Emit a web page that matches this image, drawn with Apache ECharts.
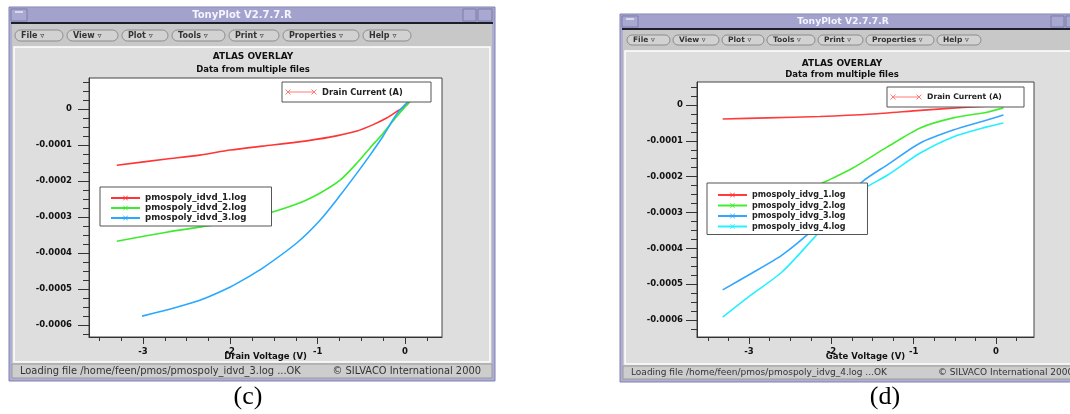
<!DOCTYPE html>
<html>
<head>
<meta charset="utf-8">
<title>TonyPlot - ATLAS OVERLAY</title>
<script src="https://cdn.jsdelivr.net/npm/echarts@6.0.0/dist/echarts.min.js"></script>
<style>
    html, body { margin: 0; padding: 0; background: #fff; }
    #main { width: 1070px; height: 414px; }
</style>
</head>
<body>
<div id="main"></div>
<script>
/** ---------------- 数据 (c) Id-Vd ---------------- */
var idvdNames = ['pmospoly_idvd_1.log', 'pmospoly_idvd_2.log', 'pmospoly_idvd_3.log'];
var idvd1 = [[-3.30,-0.000156],[-2.73,-0.000139],[-2.35,-0.000128],[-2.00,-0.000114],[-1.63,-0.000103],
    [-1.24,-0.000092],[-0.86,-0.000078],[-0.55,-0.000061],[-0.37,-0.000044],[-0.21,-0.000025],
    [-0.10,-0.000008],[0.02,0.000011],[0.06,0.000022]];
var idvd2 = [[-3.30,-0.000367],[-2.73,-0.000342],[-2.35,-0.000328],[-2.00,-0.000314],[-1.63,-0.000294],
    [-1.24,-0.000264],[-0.97,-0.000233],[-0.74,-0.000197],[-0.55,-0.000150],[-0.40,-0.000108],
    [-0.25,-0.000067],[-0.10,-0.000022],[0.02,0.000011],[0.06,0.000022]];
var idvd3 = [[-3.01,-0.000575],[-2.73,-0.000558],[-2.35,-0.000531],[-2.00,-0.000494],[-1.80,-0.000467],
    [-1.63,-0.000442],[-1.24,-0.000372],[-0.97,-0.000308],[-0.74,-0.000239],[-0.55,-0.000178],
    [-0.40,-0.000128],[-0.25,-0.000075],[-0.10,-0.000016],[0.03,0.000019],[0.06,0.000022]];

/** ---------------- 数据 (d) Id-Vg ---------------- */
var idvgNames = ['pmospoly_idvg_1.log', 'pmospoly_idvg_2.log', 'pmospoly_idvg_3.log', 'pmospoly_idvg_4.log'];
var idvg1 = [[-3.32,-0.000039],[-2.78,-0.000036],[-2.14,-0.000032],[-1.50,-0.000025],[-0.92,-0.000015],
    [-0.40,-0.000007],[0.09,-0.000001]];
var idvg2 = [[-3.32,-0.000349],[-3.01,-0.000327],[-2.16,-0.000223],[-1.98,-0.000204],[-1.74,-0.000176],
    [-1.32,-0.000117],[-0.92,-0.000064],[-0.52,-0.000036],[-0.11,-0.000020],[0.09,-0.000008]];
var idvg3 = [[-3.32,-0.000516],[-3.01,-0.000475],[-2.60,-0.000419],[-2.20,-0.000343],[-1.63,-0.000215],
    [-1.32,-0.000167],[-0.92,-0.000106],[-0.52,-0.000070],[-0.11,-0.000042],[0.09,-0.000028]];
var idvg4 = [[-3.32,-0.000592],[-3.01,-0.000536],[-2.60,-0.000466],[-2.20,-0.000368],[-1.87,-0.000285],
    [-1.63,-0.000237],[-1.32,-0.000196],[-0.92,-0.000134],[-0.52,-0.000089],[-0.11,-0.000061],
    [0.09,-0.000050]];

/** ---------------- 刻度 ---------------- */
var xMajorTicks = [-3, -2, -1, 0];
var yMajorTicks = [0, -0.0001, -0.0002, -0.0003, -0.0004, -0.0005, -0.0006];
var xMinorTicks = [-3.5, -3.25, -2.75, -2.5, -2.25, -1.75, -1.5, -1.25, -0.75, -0.5, -0.25, 0.25];
var yMinorTicks = [0.000075, 0.00005, 0.000025, -0.000025, -0.00005, -0.000075, -0.000125, -0.00015,
    -0.000175, -0.000225, -0.00025, -0.000275, -0.000325, -0.00035, -0.000375, -0.000425, -0.00045,
    -0.000475, -0.000525, -0.00055, -0.000575, -0.000625];

var menuItems = ['File', 'View', 'Plot', 'Tools', 'Print', 'Properties', 'Help'];

var UI_FONT = 'DejaVu Sans';
var XMARK = 'path://M1,0L5,4L9,0L10,1L6,5L10,9L9,10L5,6L1,10L0,9L4,5L0,1Z';

initChart();

/** --------窗口外框 ------ */
function windowChrome(w) {
    var els = [];
    var width = w.x1 - w.x0;
    // 外框
    els.push({ type: 'rect', z: -10, shape: { x: w.x0, y: w.tTop - 1, width: width, height: w.bottom - w.tTop + 2 },
        style: { fill: '#aeaed4', stroke: '#8080b0', lineWidth: 1 } });
    // 标题栏
    els.push({ type: 'rect', z: -9, shape: { x: w.x0 + 1, y: w.tTop, width: width - 2, height: w.tBot - w.tTop },
        style: { fill: '#a2a2cc' } });
    els.push({ type: 'rect', z: -8, shape: { x: w.x0 + 2, y: w.tTop + 1, width: 16, height: w.tBot - w.tTop - 2 },
        style: { fill: '#a8a8d0', stroke: '#7c7cac' } });
    els.push({ type: 'line', z: -8, shape: { x1: w.x0 + 6, y1: w.tTop + 4, x2: w.x0 + 14, y2: w.tTop + 4 },
        style: { stroke: '#e8e8f8', lineWidth: 1.5 } });
    els.push({ type: 'rect', z: -8, shape: { x: w.btnX, y: w.tTop + 1, width: 13, height: w.tBot - w.tTop - 2 },
        style: { fill: '#a8a8d0', stroke: '#7c7cac' } });
    els.push({ type: 'rect', z: -8, shape: { x: w.btnX + 15, y: w.tTop + 1, width: 14, height: w.tBot - w.tTop - 2 },
        style: { fill: '#a8a8d0', stroke: '#7c7cac' } });
    els.push({ type: 'text', z: -8, style: { text: 'TonyPlot V2.7.7.R', x: w.titleX, y: (w.tTop + w.tBot) / 2 + 0.5,
        align: 'center', verticalAlign: 'middle', fill: '#f4f4ff', font: 'bold ' + w.titleSize + 'px ' + UI_FONT } });
    // 标题栏下黑线
    els.push({ type: 'rect', z: -8, shape: { x: w.x0 + 2, y: w.tBot, width: width - 4, height: 2 },
        style: { fill: '#1e1e2a' } });
    // 菜单栏
    els.push({ type: 'rect', z: -8, shape: { x: w.x0 + 3, y: w.tBot + 2, width: width - 6, height: w.menuBot - w.tBot - 2 },
        style: { fill: '#c8c8c8' } });
    var bx = w.menuX;
    for (var i = 0; i < menuItems.length; i++) {
        var bw = w.menuW[i];
        els.push({ type: 'rect', z: -7, shape: { x: bx, y: w.menuY, width: bw, height: w.menuH, r: w.menuH / 2 },
            style: { fill: '#d2d2d2', stroke: '#8c8c8c', lineWidth: 1 } });
        els.push({ type: 'text', z: -6, style: { text: menuItems[i] + ' \u25BF', x: bx + 6, y: w.menuY + w.menuH / 2 + 0.5,
            verticalAlign: 'middle', fill: '#333', font: 'bold ' + w.menuSize + 'px ' + UI_FONT } });
        bx += bw + w.menuGap;
    }
    // 绘图区面板
    els.push({ type: 'rect', z: -8, shape: { x: w.x0 + 3, y: w.menuBot, width: width - 6, height: w.panelBot - w.menuBot },
        style: { fill: '#c8c8c8' } });
    els.push({ type: 'rect', z: -7, shape: { x: w.x0 + 5, y: w.menuBot + 1, width: width - 10, height: w.panelBot - w.menuBot - 3 },
        style: { fill: '#dedede', stroke: '#ffffff', lineWidth: 1.5 } });
    // 状态栏
    els.push({ type: 'rect', z: -7, shape: { x: w.x0 + 3, y: w.panelBot, width: width - 6, height: w.statBot - w.panelBot },
        style: { fill: '#cdcdcd', stroke: '#9c9c9c', lineWidth: 1 } });
    els.push({ type: 'text', z: -6, style: { text: w.status, x: w.statX, y: (w.panelBot + w.statBot) / 2 + 0.5,
        verticalAlign: 'middle', fill: '#333', font: w.statSize + 'px ' + UI_FONT } });
    els.push({ type: 'text', z: -6, style: { text: '\u00A9 SILVACO International 2000', x: w.copyX, y: (w.panelBot + w.statBot) / 2 + 0.5,
        align: w.copyAlign, verticalAlign: 'middle', fill: '#333', font: w.statSize + 'px ' + UI_FONT } });
    // 标题
    els.push({ type: 'text', z: -6, style: { text: 'ATLAS OVERLAY', x: w.plotCx, y: w.head1, align: 'center',
        verticalAlign: 'middle', fill: '#111', font: 'bold 9px ' + UI_FONT } });
    els.push({ type: 'text', z: -6, style: { text: 'Data from multiple files', x: w.plotCx, y: w.head2, align: 'center',
        verticalAlign: 'middle', fill: '#111', font: 'bold 8.5px ' + UI_FONT } });
    return els;
}

/** --------Drain Current 图例框 ------ */
function drainLegend(x, y, w, h, size) {
    var cy = y + h / 2;
    var els = [];
    els.push({ type: 'rect', z: 20, shape: { x: x, y: y, width: w, height: h }, style: { fill: '#fff', stroke: '#555', lineWidth: 1 } });
    els.push({ type: 'line', z: 21, shape: { x1: x + 6, y1: cy, x2: x + 32, y2: cy }, style: { stroke: '#ff7a7a', lineWidth: 1 } });
    [x + 6, x + 32].forEach(function (px) {
        els.push({ type: 'line', z: 21, shape: { x1: px - 2.5, y1: cy - 2.5, x2: px + 2.5, y2: cy + 2.5 }, style: { stroke: '#ff7a7a' } });
        els.push({ type: 'line', z: 21, shape: { x1: px - 2.5, y1: cy + 2.5, x2: px + 2.5, y2: cy - 2.5 }, style: { stroke: '#ff7a7a' } });
    });
    els.push({ type: 'text', z: 21, style: { text: 'Drain Current (A)', x: x + 40, y: cy + 0.5, verticalAlign: 'middle',
        fill: '#222', font: 'bold ' + size + 'px ' + UI_FONT } });
    return els;
}

function xAxes(grid, min, max, name) {
    return [{
        gridIndex: grid, type: 'value', min: min, max: max,
        name: name, nameLocation: 'middle', nameGap: 15, nameMoveOverlap: false,
        nameTextStyle: { fontFamily: UI_FONT, fontWeight: 'bold', fontSize: 8.5, color: '#111' },
        axisLine: { show: true, onZero: false, lineStyle: { color: '#333', width: 1 } },
        axisTick: { show: true, length: 7, customValues: xMajorTicks, lineStyle: { color: '#333' } },
        axisLabel: { customValues: xMajorTicks, margin: 10, fontFamily: UI_FONT, fontWeight: 'bold', fontSize: 8.5, color: '#111',
            formatter: function (v) { return String(v); } },
        splitLine: { show: false }
    }, {
        gridIndex: grid, type: 'value', min: min, max: max, position: 'bottom',
        axisLine: { show: false, onZero: false },
        axisTick: { show: true, length: 4, customValues: xMinorTicks, lineStyle: { color: '#333' } },
        axisLabel: { show: false },
        splitLine: { show: false }
    }];
}

function yAxes(grid, min, max, margin) {
    return [{
        gridIndex: grid, type: 'value', min: min, max: max,
        axisLine: { show: true, onZero: false, lineStyle: { color: '#333', width: 1 } },
        axisTick: { show: true, length: 11, customValues: yMajorTicks, lineStyle: { color: '#333' } },
        axisLabel: { customValues: yMajorTicks, margin: margin, fontFamily: UI_FONT, fontWeight: 'bold', fontSize: 8.5, color: '#111',
            formatter: function (v) { return v === 0 ? '0' : v.toFixed(4); } },
        splitLine: { show: false }
    }, {
        gridIndex: grid, type: 'value', min: min, max: max, position: 'left',
        axisLine: { show: false, onZero: false },
        axisTick: { show: true, length: 6, customValues: yMinorTicks, lineStyle: { color: '#333' } },
        axisLabel: { show: false },
        splitLine: { show: false }
    }];
}

function lineSeries(name, data, color, xi, yi) {
    return {
        name: name, type: 'line', data: data, xAxisIndex: xi, yAxisIndex: yi,
        smooth: 0.25, showSymbol: false, symbol: XMARK, symbolSize: 5,
        color: color, lineStyle: { width: 1.6, color: color }, silent: true, z: 5
    };
}

function legendBox(names, left, top, padding, size, gap) {
    return {
        data: names, orient: 'vertical', left: left, top: top, padding: padding,
        itemWidth: 29, itemHeight: 6, itemGap: gap, selectedMode: false,
        backgroundColor: '#fff', borderColor: '#555', borderWidth: 1, z: 20,
        textStyle: { fontFamily: UI_FONT, fontWeight: 'bold', fontSize: size, color: '#222', lineHeight: 10 }
    };
}

/** --------图表 ------ */
function initChart() {
    var chart = echarts.init(document.getElementById('main'), null, { renderer: 'canvas' });

    var leftWin = { x0: 9, x1: 495, tTop: 8, tBot: 22, menuBot: 46, panelBot: 364, statBot: 378, bottom: 380,
        btnX: 463, titleX: 242, titleSize: 10,
        menuX: 15, menuY: 30, menuH: 11, menuW: [48, 51, 46, 53, 50, 76, 48], menuGap: 4, menuSize: 8,
        status: 'Loading file /home/feen/pmos/pmospoly_idvd_3.log ...OK', statX: 20, statSize: 9.9,
        copyX: 481, copyAlign: 'right', plotCx: 253, head1: 57, head2: 70 };
    var rightWin = { x0: 620, x1: 1080, tTop: 15, tBot: 28, menuBot: 50, panelBot: 366, statBot: 379, bottom: 381,
        btnX: 1051, titleX: 843, titleSize: 9.2,
        menuX: 627, menuY: 35, menuH: 10, menuW: [43, 46, 42, 48, 45, 68, 44], menuGap: 3, menuSize: 7.5,
        status: 'Loading file /home/feen/pmos/pmospoly_idvg_4.log ...OK', statX: 631, statSize: 9,
        copyX: 938, copyAlign: 'left', plotCx: 842, head1: 64, head2: 75 };

    var graphics = [].concat(
        windowChrome(leftWin),
        windowChrome(rightWin),
        drainLegend(282, 82, 149, 20, 8.3),
        drainLegend(887, 87, 137, 20, 7.7),
        [
            { type: 'text', style: { text: '(c)', x: 248, y: 397, align: 'center', verticalAlign: 'middle',
                fill: '#000', font: '26px "Liberation Serif"' } },
            { type: 'text', style: { text: '(d)', x: 885, y: 397, align: 'center', verticalAlign: 'middle',
                fill: '#000', font: '26px "Liberation Serif"' } }
        ]
    );

    var option = {
        animation: false,
        backgroundColor: '#fff',
        graphic: { elements: graphics },
        legend: [
            legendBox(idvdNames, 100, 187, [6, 25, 3, 10], 8.7, 0),
            legendBox(idvgNames, 707, 183, [7, 22, 3, 10], 8, 0.5)
        ],
        grid: [
            { left: 89, top: 78, width: 353, height: 259, show: true, backgroundColor: '#fff', borderColor: '#444', borderWidth: 1 },
            { left: 697, top: 82, width: 337, height: 255, show: true, backgroundColor: '#fff', borderColor: '#444', borderWidth: 1 }
        ],
        xAxis: [].concat(
            xAxes(0, -3.618, 0.424, 'Drain Voltage (V)'),
            xAxes(1, -3.632, 0.4615, 'Gate Voltage (V)')
        ),
        yAxis: [].concat(
            yAxes(0, -0.000633, 0.0000861, 17),
            yAxes(1, -0.0006475, 0.0000642, 14)
        ),
        series: [
            lineSeries(idvdNames[0], idvd1, '#ff3535', 0, 0),
            lineSeries(idvdNames[1], idvd2, '#3cec2c', 0, 0),
            lineSeries(idvdNames[2], idvd3, '#28a8ff', 0, 0),
            lineSeries(idvgNames[0], idvg1, '#ff3b3b', 2, 2),
            lineSeries(idvgNames[1], idvg2, '#44ec30', 2, 2),
            lineSeries(idvgNames[2], idvg3, '#34a6ff', 2, 2),
            lineSeries(idvgNames[3], idvg4, '#26f0ff', 2, 2)
        ]
    };
    chart.setOption(option);
}
</script>
</body>
</html>
